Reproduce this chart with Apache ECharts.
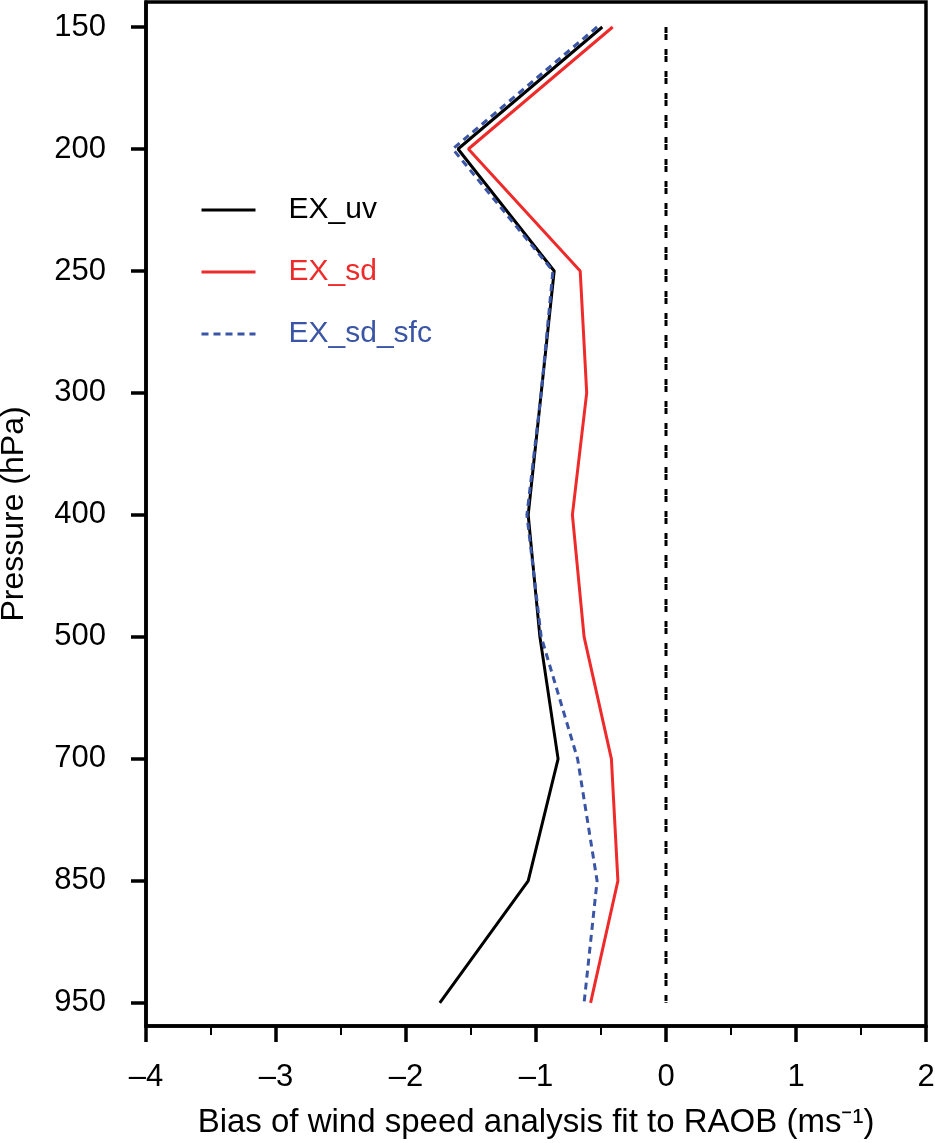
<!DOCTYPE html>
<html>
<head>
<meta charset="utf-8">
<script src="https://cdn.jsdelivr.net/npm/echarts@6/dist/echarts.min.js"></script>
<style>
  html, body { margin: 0; padding: 0; background: #fff; }
  #chart { width: 935px; height: 1143px; }
</style>
</head>
<body>
<div id="chart"></div>
<script>
// pressure levels (hPa), drawn evenly spaced from top to bottom
var levels = ['150', '200', '250', '300', '400', '500', '700', '850', '950'];
// bias of wind speed (m/s) at each level
var exUv    = [-0.49, -1.60, -0.86, -0.96, -1.06, -0.97, -0.83, -1.06, -1.74];
var exSd    = [-0.41, -1.52, -0.66, -0.61, -0.72, -0.63, -0.42, -0.37, -0.58];
var exSdSfc = [-0.53, -1.64, -0.87, -0.96, -1.07, -0.96, -0.68, -0.53, -0.63];
var zeroRef = [0, 0, 0, 0, 0, 0, 0, 0, 0];
var xTicks = [-4, -3, -2, -1, 0, 1, 2];

var FONT = 'Liberation Sans, Arial, sans-serif';

function pairs(vals) {
    return vals.map(function (v, i) { return [v, i]; });
}

var levelIdx = levels.map(function (l, i) { return i; });

var chart = echarts.init(document.getElementById('chart'));

var option = {
    animation: false,
    backgroundColor: '#fff',
    textStyle: { fontFamily: FONT, color: '#000' },
    grid: {
        left: 146, right: 9, top: 2, bottom: 117,
        outerBoundsMode: 'none',
        show: true,
        borderColor: '#000',
        borderWidth: 3.5
    },
    legend: {
        data: ['EX_uv', 'EX_sd', 'EX_sd_sfc'],
        orient: 'vertical',
        left: 195,
        top: 190,
        itemWidth: 54,
        itemHeight: 1,
        itemGap: 32,
        lineStyle: { width: 3 },
        textStyle: {
            fontFamily: FONT,
            fontSize: 30,
            lineHeight: 30,
            padding: [0, 0, 0, 28],
            color: 'inherit'
        }
    },
    xAxis: {
        type: 'value',
        min: xTicks[0],
        max: xTicks[xTicks.length - 1],
        interval: 1,
        name: 'Bias of wind speed analysis fit to RAOB (ms\u207B\u00B9)',
        nameLocation: 'middle',
        nameGap: 80,
        nameTextStyle: { fontFamily: FONT, fontSize: 33, color: '#000' },
        splitLine: { show: false },
        axisLine: { onZero: false, lineStyle: { color: '#000', width: 3.5 } },
        axisTick: { show: true, inside: false, length: 16, lineStyle: { color: '#000', width: 3.5 } },
        minorTick: { show: true, splitNumber: 2, length: 9, lineStyle: { color: '#000', width: 2 } },
        axisLabel: {
            margin: 36,
            fontFamily: FONT,
            fontSize: 31,
            color: '#000',
            formatter: function (v) { return String(v).replace('-', '\u2013'); }
        }
    },
    yAxis: {
        type: 'value',
        inverse: true,
        min: -0.205,
        max: 8.19,
        name: 'Pressure (hPa)',
        nameLocation: 'middle',
        nameGap: 116,
        nameTextStyle: { fontFamily: FONT, fontSize: 32, color: '#000' },
        splitLine: { show: false },
        axisLine: { onZero: false, lineStyle: { color: '#000', width: 3.5 } },
        axisTick: {
            show: true, inside: false, length: 15,
            customValues: levelIdx,
            lineStyle: { color: '#000', width: 3.5 }
        },
        axisLabel: {
            margin: 40,
            fontFamily: FONT,
            fontSize: 31,
            color: '#000',
            customValues: levelIdx,
            formatter: function (v) { return levels[Math.round(v)]; }
        }
    },
    series: [
        {
            name: 'zero',
            type: 'line',
            symbol: 'none',
            silent: true,
            data: pairs(zeroRef),
            lineStyle: { color: '#000', width: 3, type: [6, 1, 6, 9] }
        },
        {
            name: 'EX_uv',
            type: 'line',
            symbol: 'none',
            color: '#000',
            data: pairs(exUv),
            lineStyle: { color: '#000', width: 3 }
        },
        {
            name: 'EX_sd',
            type: 'line',
            symbol: 'none',
            color: '#ee2a2a',
            data: pairs(exSd),
            lineStyle: { color: '#ee2a2a', width: 3 }
        },
        {
            name: 'EX_sd_sfc',
            type: 'line',
            symbol: 'none',
            color: '#3a55a6',
            data: pairs(exSdSfc),
            lineStyle: { color: '#3a55a6', width: 3, type: [7, 5] }
        }
    ]
};

chart.setOption(option);
</script>
</body>
</html>
